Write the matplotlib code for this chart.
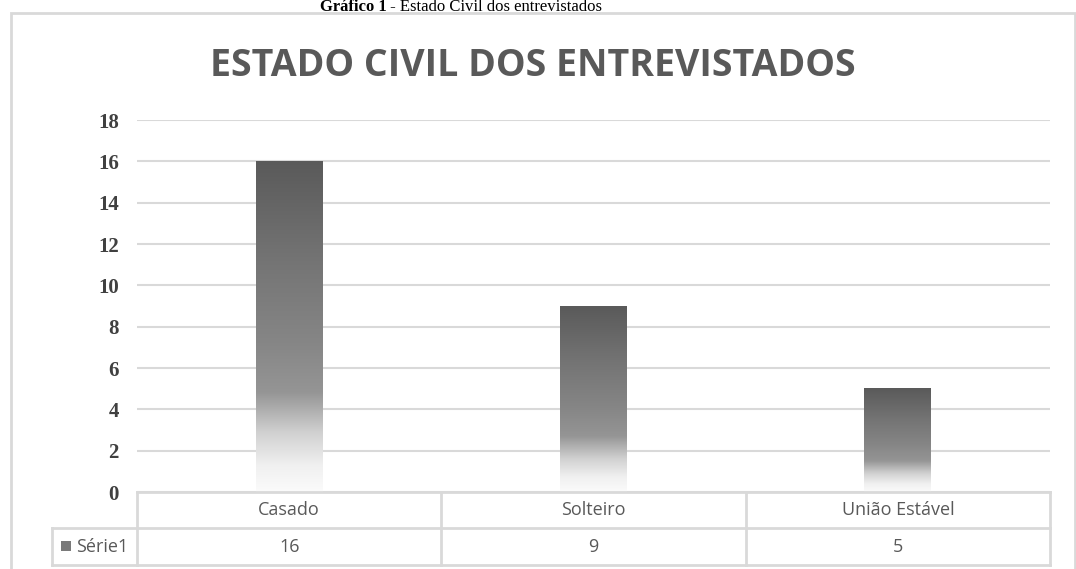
import matplotlib
matplotlib.use("Agg")
import matplotlib.pyplot as plt
import numpy as np
from matplotlib.colors import LinearSegmentedColormap
from matplotlib.patches import Rectangle
from matplotlib.lines import Line2D

categories = ["Casado", "Solteiro", "União Estável"]
values = [16, 9, 5]
series_name = "Série1"
yticks = [0, 2, 4, 6, 8, 10, 12, 14, 16, 18]
title = "ESTADO CIVIL DOS ENTREVISTADOS"
caption_bold = "Gráfico 1"
caption_rest = " - Estado Civil dos entrevistados"

W, H = 1076, 569
fig = plt.figure(figsize=(W / 100, H / 100), dpi=100)
fig.patch.set_facecolor("white")

def fx(px):
    return px / W

def fy(py):
    return 1 - py / H

sans = ["Open Sans", "DejaVu Sans"]
serif = ["Liberation Serif", "DejaVu Serif"]

# outer chart frame
fig.add_artist(Rectangle((fx(11), fy(575)), fx(1075) - fx(11), fy(13) - fy(575),
                         transform=fig.transFigure, fill=False,
                         edgecolor="#d9d9d9", linewidth=2.0))

# caption above the chart (centred where the reference shows it)
t1 = fig.text(0, fy(11), caption_bold, family=serif, fontsize=12,
              fontweight="bold", color="black", va="baseline", ha="left")
t2 = fig.text(0, fy(11), caption_rest, family=serif, fontsize=12,
              color="black", va="baseline", ha="left")
fig.canvas.draw()
w1 = t1.get_window_extent().width
w2 = t2.get_window_extent().width
start = 461 - (w1 + w2) / 2
t1.set_x(fx(start))
t2.set_x(fx(start + w1))

# title
fig.text(fx(533), fy(66), title, family=sans, fontsize=27, fontweight="bold",
         color="#595959", ha="center", va="center")

# axes
left, right, top, bottom = 137, 1050, 120, 492
ax = fig.add_axes([fx(left), fy(bottom), fx(right) - fx(left), fy(top) - fy(bottom)])
ax.set_xlim(-0.5, len(categories) - 0.5)
ax.set_ylim(0, 18)
ax.set_yticks(yticks)
ax.set_yticklabels([str(v) for v in yticks], family=serif, fontweight="bold",
                   fontsize=15, color="#404040")
ax.tick_params(axis="y", length=0, pad=13)
ax.set_xticks([])
for s in ax.spines.values():
    s.set_visible(False)
ax.grid(axis="y", color="#d9d9d9", linewidth=1.5)
ax.set_axisbelow(True)

cmap = LinearSegmentedColormap.from_list(
    "bargrad",
    [(0.0, "#fbfbfb"), (0.08, "#f0f0f0"), (0.18, "#d0d0d0"), (0.3, "#959595"),
     (0.45, "#868686"), (0.7, "#747474"), (1.0, "#5a5a5a")])
grad = np.linspace(0, 1, 256).reshape(-1, 1)
bw = 0.22
bars = ax.bar(range(len(categories)), values, width=bw, color="none", zorder=3)
for b in bars:
    x0, w, h = b.get_x(), b.get_width(), b.get_height()
    ax.imshow(grad, cmap=cmap, origin="lower", aspect="auto",
              extent=(x0, x0 + w, 0, h), zorder=3, interpolation="bilinear")
ax.set_xlim(-0.5, len(categories) - 0.5)
ax.set_ylim(0, 18)

# data table
lc = "#d9d9d9"
lw = 2.0
row1_top, row1_bot, row2_bot = 492, 528, 565
leg_left = 52
ncat = len(categories)
colw = (right - left) / ncat

def hline(x0, x1, y):
    fig.add_artist(Line2D([fx(x0), fx(x1)], [fy(y), fy(y)], transform=fig.transFigure,
                          color=lc, linewidth=lw))

def vline(x, y0, y1):
    fig.add_artist(Line2D([fx(x), fx(x)], [fy(y0), fy(y1)], transform=fig.transFigure,
                          color=lc, linewidth=lw))

hline(left, right, row1_top)
hline(leg_left, right, row1_bot)
hline(leg_left, right, row2_bot)
vline(leg_left, row1_bot, row2_bot)
for i in range(ncat + 1):
    vline(left + i * colw, row1_top, row2_bot)

for i, (c, v) in enumerate(zip(categories, values)):
    cx = left + (i + 0.5) * colw
    fig.text(fx(cx), fy((row1_top + row1_bot) / 2), c, family=sans, fontsize=13,
             color="#595959", ha="center", va="center")
    fig.text(fx(cx), fy((row1_bot + row2_bot) / 2), str(v), family=sans, fontsize=13,
             color="#595959", ha="center", va="center")

# legend key
fig.add_artist(Rectangle((fx(61), fy(551)), fx(71) - fx(61), fy(541) - fy(551),
                         transform=fig.transFigure, facecolor="#7a7a7a", edgecolor="none"))
fig.text(fx(76), fy((row1_bot + row2_bot) / 2), series_name, family=sans, fontsize=13,
         color="#595959", ha="left", va="center")

fig.savefig("out.png", dpi=100, facecolor="white")
